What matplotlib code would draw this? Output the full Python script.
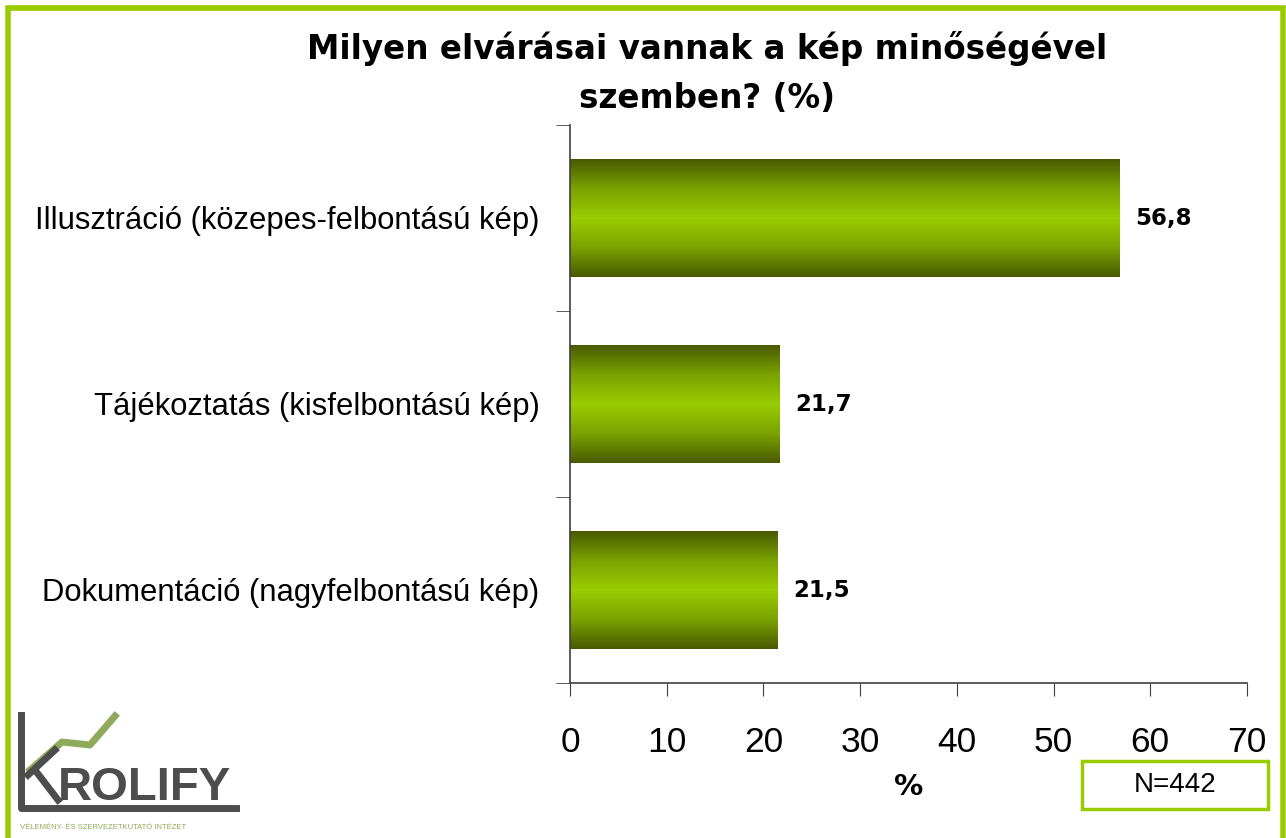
import numpy as np
import matplotlib.pyplot as plt
from matplotlib.colors import LinearSegmentedColormap
from matplotlib.patches import Rectangle

categories = ['Illusztráció (közepes-felbontású kép)',
              'Tájékoztatás (kisfelbontású kép)',
              'Dokumentáció (nagyfelbontású kép)']
values = [56.8, 21.7, 21.5]
value_labels = ['56,8', '21,7', '21,5']
xticks = [0, 10, 20, 30, 40, 50, 60, 70]

fig = plt.figure(figsize=(12.86, 8.38), dpi=100)
fig.patch.set_facecolor('white')

# green frame
fig.patches.append(Rectangle((8/1286, -0.05), 1275/1286, 1.05 - 8/838, transform=fig.transFigure,
                             fill=False, edgecolor='#99cc00', linewidth=4))

ax = fig.add_axes([570/1286, 1 - 683/838, 677/1286, 558/838])

grad = LinearSegmentedColormap.from_list('g', ['#4a5a00', '#7aa300', '#99cc00', '#7aa300', '#4a5a00'])
ypos = np.arange(len(categories))[::-1]
bh = 0.63
for y, v in zip(ypos, values):
    bar = ax.barh(y, v, height=bh, color='#88b400', edgecolor='none')[0]
    im = ax.imshow(np.linspace(0, 1, 256).reshape(-1, 1), cmap=grad, aspect='auto',
                   extent=[0, v, y - bh/2, y + bh/2], zorder=2)
    im.set_clip_path(bar)

for y, v, lab in zip(ypos, values, value_labels):
    ax.text(v + 1.6, y, lab, va='center', ha='left', fontsize=16.5, fontweight='bold',
            family='DejaVu Sans')

ax.set_xlim(0, 70)
ax.set_ylim(-0.5, 2.5)
ax.set_xticks(xticks)
ax.set_xticklabels([str(t) for t in xticks], fontsize=25.5, family='Liberation Sans')
ax.set_yticks(ypos)
ax.set_yticklabels(categories, fontsize=22.3, family='Liberation Sans')
ax.set_yticks([-0.5, 0.5, 1.5, 2.5], minor=True)
ax.tick_params(axis='y', which='major', length=0, pad=22)
ax.tick_params(axis='y', which='minor', length=10, color='#404040')
ax.tick_params(axis='x', length=9, color='#404040', pad=22)
for s in ['top', 'right']:
    ax.spines[s].set_visible(False)
for s in ['left', 'bottom']:
    ax.spines[s].set_color('#404040')
    ax.spines[s].set_linewidth(1.2)
ax.set_xlabel('%', fontsize=21, fontweight='bold', family='DejaVu Sans', labelpad=10)

fig.text(707/1286, 1 - 73/838, 'Milyen elvárásai vannak a kép minőségével\nszemben? (%)',
         ha='center', va='center', fontsize=23.5, fontweight='bold', family='DejaVu Sans',
         linespacing=1.6)

# N box
fig.patches.append(Rectangle((1082/1286, 1 - 809/838), 186/1286, 48/838, transform=fig.transFigure,
                             fill=False, edgecolor='#99cc00', linewidth=2.5))
fig.text(1175/1286, 1 - 785/838, 'N=442', ha='center', va='center', fontsize=20,
         family='Liberation Sans')

# logo
lx = lambda x: x / 1286
ly = lambda y: 1 - y / 838
fig.lines.append(plt.Line2D([lx(30), lx(62), lx(90), lx(115)], [ly(770), ly(742), ly(745), ly(716)],
                            transform=fig.transFigure, color='#8faa5a', linewidth=5))
fig.lines.append(plt.Line2D([lx(21), lx(21), lx(236)], [ly(715), ly(808), ly(808)],
                            transform=fig.transFigure, color='#4d4d4d', linewidth=5))
fig.lines.append(plt.Line2D([lx(28), lx(55)], [ly(775), ly(750)], transform=fig.transFigure,
                            color='#4d4d4d', linewidth=5))
fig.lines.append(plt.Line2D([lx(35), lx(58)], [ly(770), ly(800)], transform=fig.transFigure,
                            color='#4d4d4d', linewidth=5))
fig.text(lx(58), ly(800), 'ROLIFY', ha='left', va='baseline', fontsize=34, fontweight='bold',
         color='#4d4d4d', family='Liberation Sans')
fig.text(lx(20), ly(827), 'VÉLEMÉNY- ÉS SZERVEZETKUTATÓ INTÉZET', ha='left', va='center',
         fontsize=5.5, color='#8faa5a', family='Liberation Sans')

fig.savefig('out.png', dpi=100)
